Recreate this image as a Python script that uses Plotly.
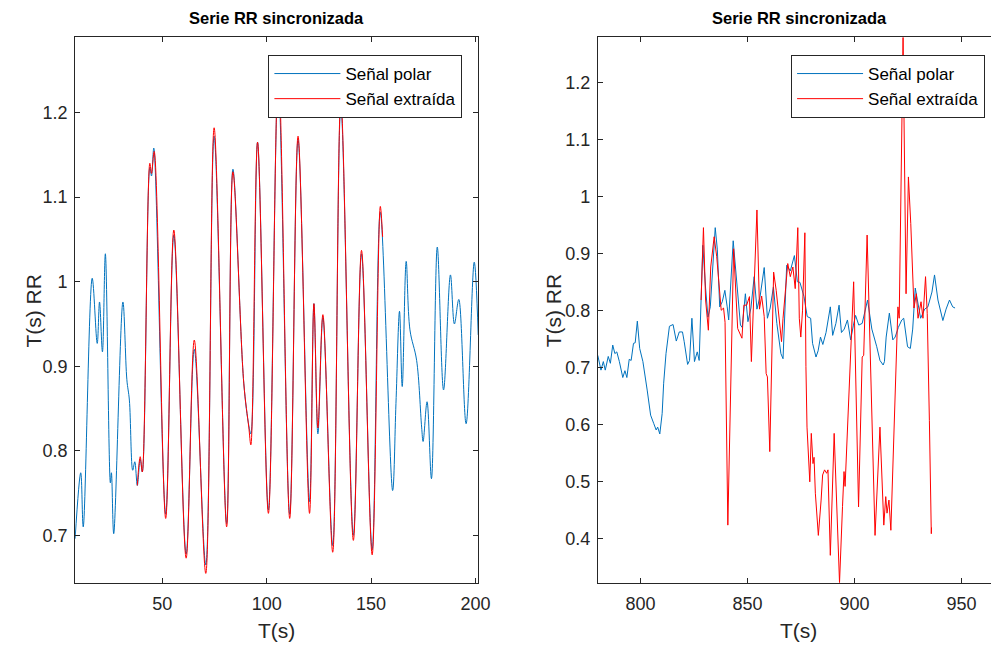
import plotly.graph_objects as go

# ---------------- Left panel data ----------------
left_polar_t = [8.2, 10.9, 12.1, 16.4, 18.8, 19.9, 21.3, 22.7, 25.1, 25.6, 26.7, 31.1, 33.0, 34.2,
                35.8, 36.8, 38.0, 39.4, 40.4, 44.0, 44.8, 45.9, 51.6, 55.5, 61.4, 65.3, 70.8, 74.8,
                80.8, 83.8, 89.0, 91.4, 92.4, 95.6, 100.8, 105.5, 111.0, 115.0, 120.5, 122.6, 124.5,
                126.9, 131.6, 135.5, 141.5, 145.4, 150.5, 154.4, 160.3, 161.9, 163.6, 164.9, 166.8,
                168.6, 171.8, 174.2, 174.9, 176.8, 178.9, 181.7, 184.7, 188.0, 189.9, 192.0, 195.5,
                199.4, 201.3]
left_polar_v = [0.696, 0.774, 0.710, 1.004, 0.927, 0.976, 0.917, 1.033, 0.762, 0.774, 0.702, 0.976,
                0.884, 0.860, 0.777, 0.787, 0.759, 0.790, 0.775, 1.135, 1.125, 1.158, 0.725, 1.055,
                0.678, 0.920, 0.665, 1.172, 0.714, 1.133, 0.880, 0.830, 0.820, 1.165, 0.730, 1.235,
                0.725, 1.168, 0.740, 0.974, 0.820, 0.958, 0.688, 1.207, 0.700, 1.033, 0.683, 1.082,
                0.753, 0.856, 0.965, 0.876, 1.024, 0.943, 0.907, 0.828, 0.811, 0.858, 0.767, 1.041,
                0.872, 1.008, 0.950, 0.979, 0.832, 1.023, 0.937]

left_extr_t = [38.0, 39.4, 40.4, 44.0, 44.8, 46.1, 51.6, 55.5, 61.4, 65.3, 70.8, 74.8, 80.8, 83.8,
               89.0, 91.4, 92.4, 95.6, 100.8, 105.6, 111.0, 115.0, 120.5, 122.6, 124.5, 126.9,
               131.6, 135.5, 141.5, 145.4, 150.5, 154.4, 155.5]
left_extr_v = [0.759, 0.793, 0.775, 1.140, 1.128, 1.154, 0.720, 1.061, 0.673, 0.931, 0.655, 1.182,
               0.710, 1.130, 0.880, 0.828, 0.807, 1.165, 0.726, 1.250, 0.720, 1.172, 0.726, 0.974,
               0.827, 0.961, 0.680, 1.215, 0.694, 1.037, 0.677, 1.089, 1.053]

# ---------------- Right panel data ----------------
right_polar_t = [780.0, 781.5, 782.6, 783.5, 784.9, 785.9, 787.0, 788.0, 788.9, 790.1, 791.7, 792.7,
                 793.6, 794.7, 795.6, 796.7, 797.5, 798.5, 799.6, 801.1, 803.1, 804.7, 806.2, 807.3,
                 808.0, 809.0, 810.1, 810.8, 811.9, 813.5, 815.2, 816.7, 818.1, 819.6, 820.4, 822.0,
                 822.9, 824.0, 825.2, 826.5, 827.4, 828.3, 829.1, 830.4, 831.5, 832.6, 833.9, 834.9,
                 835.9, 837.0, 838.2, 839.4, 840.5, 841.2, 843.3, 845.2, 846.7, 847.5, 849.0, 850.2,
                 851.6, 853.1, 854.4, 855.9, 857.8, 859.3, 860.6, 862.1, 863.7, 865.6, 866.6, 868.3,
                 870.0, 871.9, 873.3, 874.5, 876.4, 877.9, 879.5, 880.4, 882.0, 883.0, 884.1, 885.2,
                 886.7, 888.7, 889.8, 891.3, 892.8, 893.9, 895.2, 896.7, 898.2, 899.5, 900.5, 902.0,
                 903.6, 906.1, 908.1, 910.4, 911.9, 913.4, 914.0, 914.8, 916.3, 917.9, 919.0, 920.5,
                 922.1, 923.0, 924.8, 926.1, 927.2, 928.4, 929.7, 930.9, 932.8, 934.3, 936.2, 937.4,
                 939.0, 941.3, 942.8, 944.4, 945.9, 947.0]
right_polar_v = [0.722, 0.696, 0.711, 0.696, 0.720, 0.708, 0.740, 0.725, 0.728, 0.711, 0.683, 0.695,
                 0.683, 0.715, 0.713, 0.743, 0.744, 0.782, 0.734, 0.711, 0.661, 0.617, 0.602, 0.591,
                 0.596, 0.584, 0.620, 0.673, 0.725, 0.773, 0.776, 0.747, 0.763, 0.763, 0.746, 0.706,
                 0.713, 0.787, 0.711, 0.728, 0.713, 0.819, 0.915, 0.840, 0.789, 0.807, 0.883, 0.946,
                 0.907, 0.807, 0.816, 0.836, 0.807, 0.784, 0.923, 0.848, 0.775, 0.771, 0.830, 0.781,
                 0.805, 0.860, 0.803, 0.826, 0.876, 0.787, 0.805, 0.842, 0.778, 0.725, 0.716, 0.880,
                 0.870, 0.897, 0.851, 0.850, 0.825, 0.790, 0.787, 0.743, 0.719, 0.730, 0.754, 0.741,
                 0.762, 0.807, 0.757, 0.778, 0.810, 0.762, 0.768, 0.784, 0.749, 0.775, 0.792, 0.775,
                 0.778, 0.819, 0.768, 0.737, 0.713, 0.705, 0.711, 0.754, 0.796, 0.749, 0.754, 0.771,
                 0.784, 0.787, 0.737, 0.734, 0.768, 0.840, 0.813, 0.787, 0.803, 0.807, 0.833, 0.863,
                 0.819, 0.783, 0.803, 0.819, 0.807, 0.805]

right_extr_t = [828.3, 829.4, 830.4, 831.7, 832.8, 834.4, 835.6, 837.7, 838.8, 839.5, 840.8, 843.5,
                845.4, 847.4, 848.3, 849.6, 850.9, 851.8, 854.4, 855.6, 856.6, 857.8, 858.7, 859.3,
                860.4, 862.2, 863.4, 864.5, 865.9, 866.6, 868.8, 870.0, 871.2, 872.3, 873.5, 874.2,
                874.9, 875.7, 876.8, 877.3, 877.8, 879.1, 879.8, 880.6, 881.1, 881.7, 883.1, 884.4,
                885.1, 886.0, 887.0, 887.6, 888.7, 890.5, 891.7, 893.0, 894.4, 895.1, 895.6, 897.0,
                899.6, 901.9, 903.6, 904.3, 905.9, 909.6, 911.9, 913.7, 914.6, 915.2, 916.1, 917.0,
                919.2, 920.3, 920.9, 921.8, 922.7, 924.1, 925.2, 926.3, 927.8, 928.9, 929.7, 931.1,
                932.0, 933.2, 934.0, 935.0, 935.9, 936.0]
right_extr_v = [0.819, 0.946, 0.819, 0.766, 0.877, 0.930, 0.895, 0.801, 0.805, 0.780, 0.424, 0.909,
                0.769, 0.752, 0.810, 0.810, 0.825, 0.711, 0.977, 0.803, 0.826, 0.790, 0.690, 0.684,
                0.553, 0.868, 0.836, 0.800, 0.746, 0.787, 0.883, 0.860, 0.877, 0.839, 0.946, 0.787,
                0.754, 0.800, 0.937, 0.702, 0.596, 0.500, 0.585, 0.532, 0.543, 0.480, 0.406, 0.468,
                0.512, 0.521, 0.515, 0.521, 0.371, 0.585, 0.474, 0.323, 0.457, 0.518, 0.492, 0.626,
                0.851, 0.456, 0.719, 0.722, 0.933, 0.406, 0.596, 0.424, 0.474, 0.445, 0.468, 0.415,
                0.702, 0.807, 0.787, 1.059, 1.280, 0.830, 1.035, 0.953, 0.805, 0.830, 0.787, 0.816,
                0.787, 0.860, 0.795, 0.608, 0.409, 0.420]

series_names = ["Señal polar", "Señal extraída"]
title_text = "Serie RR sincronizada"
x_label = "T(s)"
y_label = "T(s) RR"

BLUE = "#0072BD"
RED = "#FF0000"
AX = "#262626"
FONT = "Liberation Sans, Arial, sans-serif"

W, H = 1003, 645

def px_x(p):
    return p / W

def px_y(p):
    return 1 - p / H

fig = go.Figure()
fig.add_trace(go.Scatter(x=left_polar_t, y=left_polar_v, mode="lines", name=series_names[0],
                         line=dict(color=BLUE, width=1, shape="spline", smoothing=1.0),
                         xaxis="x", yaxis="y", legend="legend"))
fig.add_trace(go.Scatter(x=left_extr_t, y=left_extr_v, mode="lines", name=series_names[1],
                         line=dict(color=RED, width=1, shape="spline", smoothing=1.0),
                         xaxis="x", yaxis="y", legend="legend"))
fig.add_trace(go.Scatter(x=right_polar_t, y=right_polar_v, mode="lines", name=series_names[0],
                         line=dict(color=BLUE, width=1),
                         xaxis="x2", yaxis="y2", legend="legend2"))
fig.add_trace(go.Scatter(x=right_extr_t, y=right_extr_v, mode="lines", name=series_names[1],
                         line=dict(color=RED, width=1),
                         xaxis="x2", yaxis="y2", legend="legend2"))

ydom = [px_y(582.7), px_y(37.3)]
common = dict(showgrid=False, zeroline=False, showline=True, linecolor=AX, linewidth=1,
              ticks="inside", ticklen=5, tickwidth=1, tickcolor=AX,
              tickfont=dict(family=FONT, size=18, color=AX))

legend_common = dict(xanchor="right", yanchor="top", bgcolor="white", bordercolor=AX,
                     borderwidth=1, itemwidth=66, tracegroupgap=0,
                     font=dict(family=FONT, size=17, color="black"))

fig.update_layout(
    width=W, height=H, margin=dict(l=0, r=0, t=0, b=0),
    paper_bgcolor="white", plot_bgcolor="white",
    font=dict(family=FONT, color=AX),
    xaxis=dict(domain=[px_x(76), px_x(484)], anchor="y", range=[8.2, 201.3],
               tickvals=[50, 100, 150, 200], mirror="ticks", ticklabelstandoff=5, **common),
    yaxis=dict(domain=ydom, anchor="x", range=[0.644, 1.289],
               tickvals=[0.7, 0.8, 0.9, 1.0, 1.1, 1.2],
               ticktext=["0.7", "0.8", "0.9", "1", "1.1", "1.2"], mirror="ticks",
               ticklabelstandoff=3, **common),
    xaxis2=dict(domain=[px_x(605), 1.0], anchor="y2", range=[780, 963.8],
                tickvals=[800, 850, 900, 950], mirror="ticks", ticklabelstandoff=5, **common),
    yaxis2=dict(domain=ydom, anchor="x2", range=[0.323, 1.28],
                tickvals=[0.4, 0.5, 0.6, 0.7, 0.8, 0.9, 1.0, 1.1, 1.2],
                ticktext=["0.4", "0.5", "0.6", "0.7", "0.8", "0.9", "1", "1.1", "1.2"],
                mirror=False, ticklabelstandoff=3, **common),
    legend=dict(x=px_x(468), y=px_y(55), **legend_common),
    legend2=dict(x=px_x(997), y=px_y(55), **legend_common),
    showlegend=True,
)

annotations = []
for cx in (280, 809):
    annotations.append(dict(x=px_x(cx), y=px_y(18), xref="paper", yref="paper",
                            text="<b>" + title_text + "</b>", showarrow=False,
                            font=dict(family=FONT, size=16.5, color="black"),
                            xanchor="center", yanchor="middle"))
for cx in (280, 808):
    annotations.append(dict(x=px_x(cx), y=px_y(630), xref="paper", yref="paper",
                            text=x_label, showarrow=False,
                            font=dict(family=FONT, size=21, color=AX),
                            xanchor="center", yanchor="middle"))
for cx in (34, 561):
    annotations.append(dict(x=px_x(cx), y=px_y(311), xref="paper", yref="paper",
                            text=y_label, showarrow=False, textangle=-90,
                            font=dict(family=FONT, size=21, color=AX),
                            xanchor="center", yanchor="middle"))
fig.update_layout(annotations=annotations)

fig.write_html("out.html")
